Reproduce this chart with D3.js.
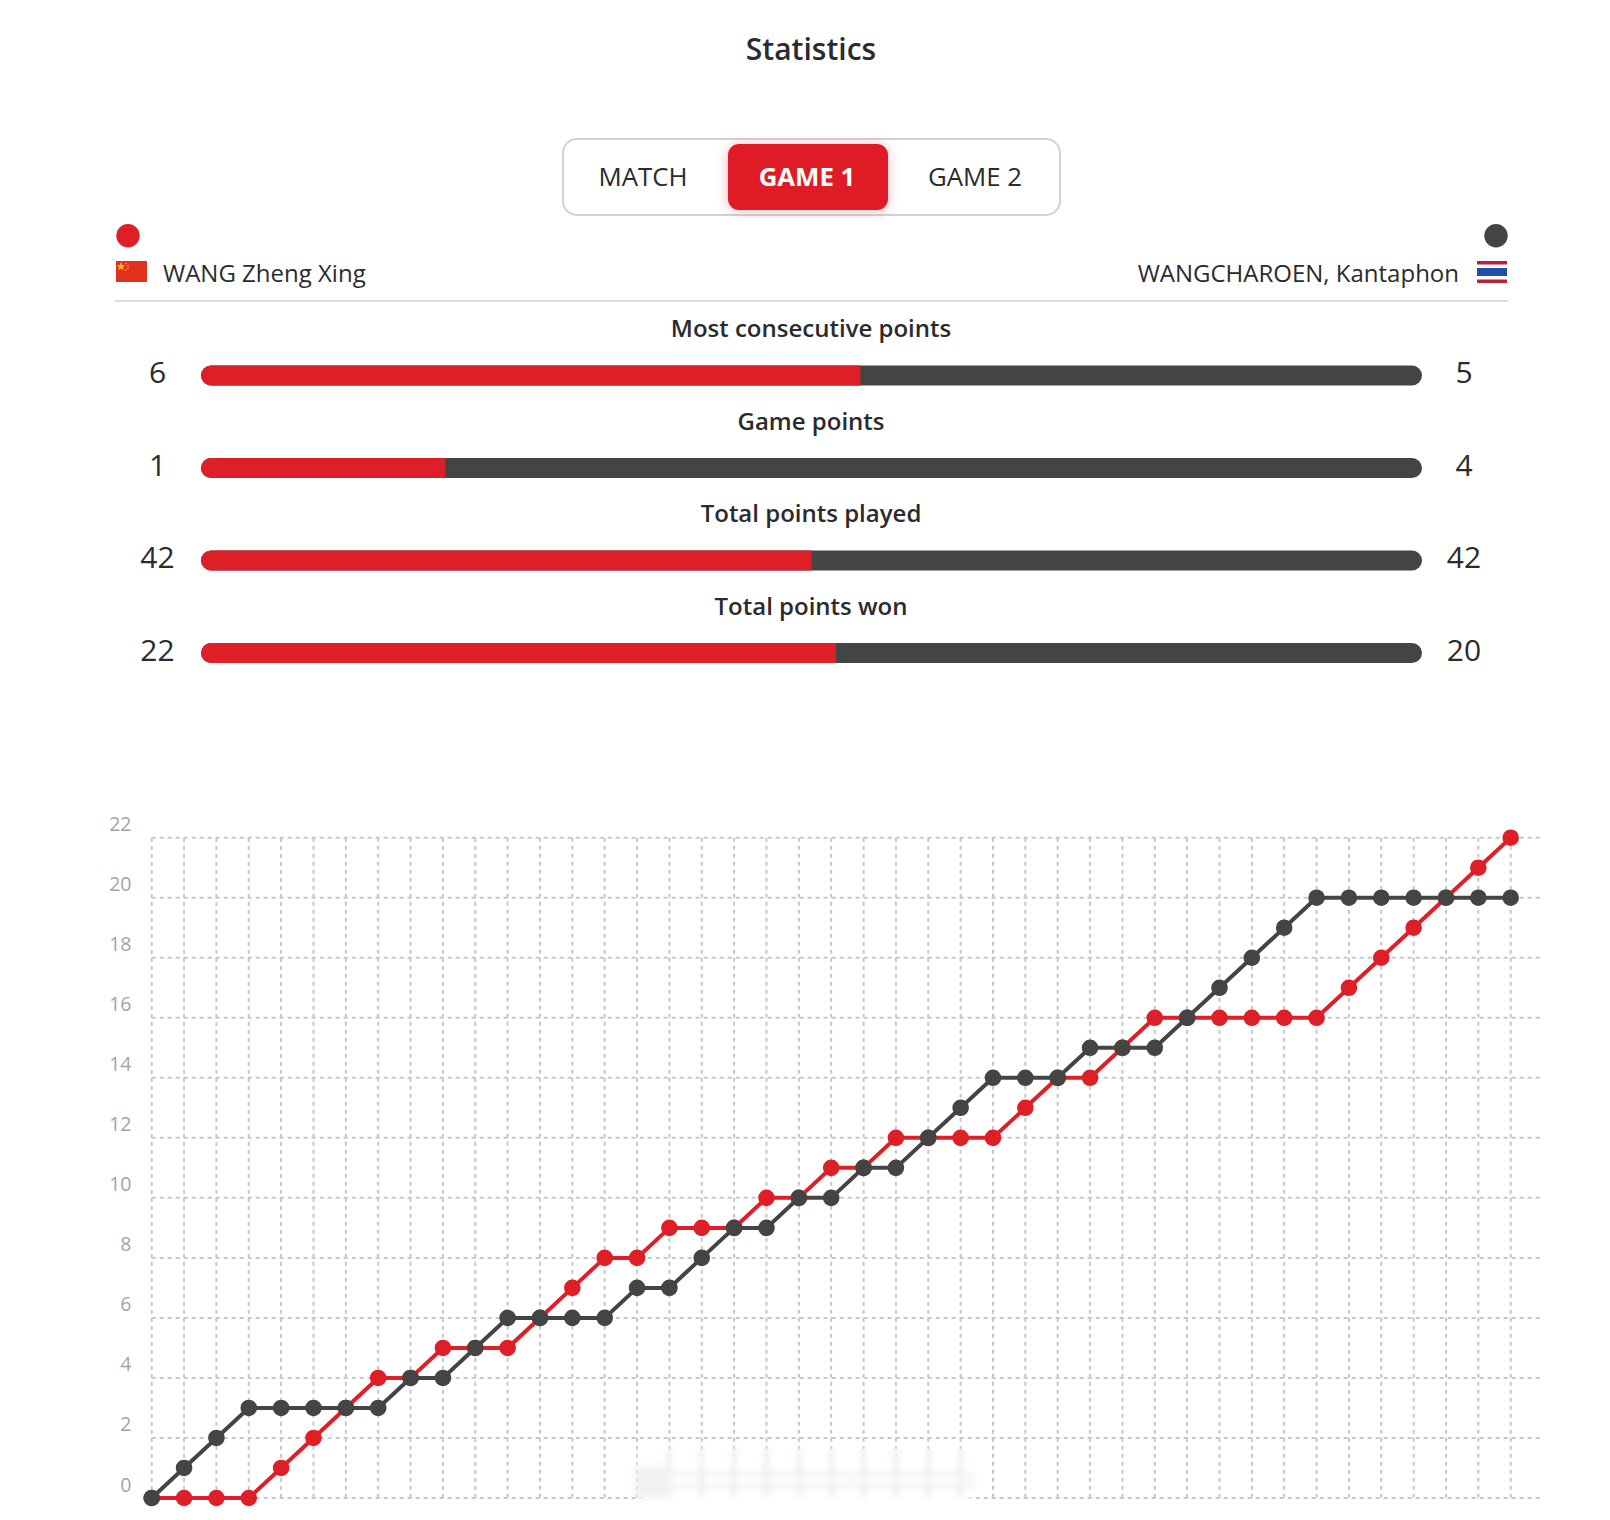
<!DOCTYPE html>
<html><head><meta charset="utf-8">
<script src="https://cdn.jsdelivr.net/npm/d3@7/dist/d3.min.js"></script>
<style>
html,body{margin:0;background:#fff}
svg{display:block}
text{font-family:"Open Sans",sans-serif;fill:#2b2b2d}
</style></head><body><svg id="c" width="1610" height="1520"></svg>
<script>
const RED="#df1f28", DARK="#444444";
const title="Statistics";
const tabs=["MATCH","GAME 1","GAME 2"];
const activeTab="GAME 1";
const playerA="WANG Zheng Xing";
const playerB="WANGCHAROEN, Kantaphon";
const statLabels=["Most consecutive points","Game points","Total points played","Total points won"];
const statA=[6,1,42,22];
const statB=[5,4,42,20];
const pointIndex=d3.range(0,43);
const scoreA=[0,0,0,0,1,2,3,4,4,5,5,5,6,7,8,8,9,9,9,10,10,11,11,12,12,12,12,13,14,14,15,16,16,16,16,16,16,17,18,19,20,21,22];
const scoreB=[0,1,2,3,3,3,3,3,4,4,5,6,6,6,6,7,7,8,9,9,10,10,11,11,12,13,14,14,14,15,15,15,16,17,18,19,20,20,20,20,20,20,20];
const yTicks=[0,2,4,6,8,10,12,14,16,18,20,22];

const svg=d3.select("#c");
const defs=svg.append("defs");
defs.append("filter").attr("id","glow").attr("x","-30%").attr("y","-30%").attr("width","160%").attr("height","160%")
  .append("feDropShadow").attr("dx",0).attr("dy",1).attr("stdDeviation",6).attr("flood-color",RED).attr("flood-opacity",.3);
defs.append("filter").attr("id","blur").attr("x","-20%").attr("y","-50%").attr("width","140%").attr("height","200%")
  .append("feGaussianBlur").attr("stdDeviation",4);
defs.append("filter").attr("id","blur2").attr("x","-20%").attr("y","-100%").attr("width","140%").attr("height","300%")
  .append("feGaussianBlur").attr("stdDeviation",3);

svg.append("text").text(title).attr("x",811).attr("y",60).attr("text-anchor","middle")
  .attr("font-size",30).attr("font-weight",600);

// tabs
svg.append("rect").attr("x",563).attr("y",139).attr("width",497).attr("height",76).attr("rx",14)
  .attr("fill","#fff").attr("stroke","#d2d2d2").attr("stroke-width",2);
svg.append("rect").attr("x",728).attr("y",144).attr("width",160).attr("height",66).attr("rx",11)
  .attr("fill",RED).attr("filter","url(#glow)");
const tabX=[643,807,975];
svg.selectAll(".tab").data(tabs).join("text").attr("class","tab").text(d=>d)
  .attr("x",(d,i)=>tabX[i]).attr("y",186).attr("text-anchor","middle").attr("font-size",25.8)
  .attr("font-weight",d=>d===activeTab?700:400)
  .style("fill",d=>d===activeTab?"#fff":"#2b2b2d");

// players
svg.append("circle").attr("cx",128).attr("cy",235.7).attr("r",11.7).attr("fill",RED);
svg.append("circle").attr("cx",1496).attr("cy",235.7).attr("r",11.7).attr("fill",DARK);
svg.append("rect").attr("x",116).attr("y",261).attr("width",31).attr("height",21).attr("fill","#e0301e");
svg.append("path").attr("d",d3.symbol(d3.symbolStar,26)()).attr("transform","translate(121,266.5)").attr("fill","#ffc21a");
[[126,263.5],[128,265.5],[128,268],[126,270]].forEach(p=>svg.append("circle").attr("cx",p[0]).attr("cy",p[1]).attr("r",.8).attr("fill","#ffc21a"));
[[0,22,"#fff"],[0,3.5,"#b8203f"],[18.5,3.5,"#b8203f"],[7,8,"#1f4fa8"]].forEach(r=>
  svg.append("rect").attr("x",1477).attr("y",261+r[0]).attr("width",30).attr("height",r[1]).attr("fill",r[2]));
svg.append("text").text(playerA).attr("x",163).attr("y",282).attr("font-size",24);
svg.append("text").text(playerB).attr("x",1459).attr("y",282).attr("text-anchor","end").attr("font-size",24);
svg.append("line").attr("x1",115).attr("x2",1508).attr("y1",301).attr("y2",301).attr("stroke","#d2d2d2").attr("stroke-width",1.6);

// stat bars
const barX=d3.scaleLinear().domain([0,100]).range([201,1422]);
const rowY=d3.scaleLinear().domain([0,3]).range([375.5,653]);
const share=i=>Math.floor(statA[i]/(statA[i]+statB[i])*100);
statLabels.forEach((lab,i)=>{
  const y=rowY(i);
  svg.append("text").text(lab).attr("x",811).attr("y",y-38.5).attr("text-anchor","middle").attr("font-size",24).attr("font-weight",600);
  svg.append("text").text(statA[i]).attr("x",157.5).attr("y",y+7.5).attr("text-anchor","middle").attr("font-size",30);
  svg.append("text").text(statB[i]).attr("x",1464).attr("y",y+7.5).attr("text-anchor","middle").attr("font-size",30);
  svg.append("rect").attr("x",barX(0)).attr("y",y-10).attr("width",barX(100)-barX(0)).attr("height",20).attr("rx",10).attr("fill",DARK);
  const m=barX(share(i));
  svg.append("path").attr("d",`M${m},${y-10}H${barX(0)+10}a10,10 0 0 0 0,20H${m}Z`).attr("fill",RED);
});

// chart
const x=d3.scaleLinear().domain([0,42]).range([151.7,1510.7]);
const y=d3.scaleLinear().domain([0,22]).range([1498,837.7]);
const gridRight=1540;
const grid=svg.append("g").attr("fill","none").attr("stroke","#c8c8c8").attr("stroke-width",2).attr("stroke-dasharray","4,4");
grid.selectAll(".v").data(pointIndex).join("line").attr("x1",d=>x(d)).attr("x2",d=>x(d)).attr("y1",y(22)).attr("y2",y(0));
grid.selectAll(".h").data(yTicks).join("line").attr("x1",x(0)).attr("x2",gridRight).attr("y1",d=>y(d)).attr("y2",d=>y(d));

const axis=d3.axisLeft(y).tickValues(yTicks).tickSize(0).tickPadding(0);
const ag=svg.append("g").attr("transform","translate(131.5,0)").call(axis);
ag.select(".domain").remove();
ag.selectAll("text").attr("dy",null).attr("dominant-baseline",null).attr("y",-7).attr("x",0)
  .attr("text-anchor","end").attr("font-size",19.5).attr("font-family",'"Open Sans",sans-serif').style("fill","#a4a4a4");

// blurred-out patch over the grid
svg.append("rect").attr("x",640).attr("y",1450).attr("width",330).attr("height",58).attr("fill","#fff").attr("filter","url(#blur)");
const smudge=svg.append("g").attr("filter","url(#blur2)").attr("opacity",.75);
smudge.selectAll("line").data(pointIndex.filter(d=>x(d)>650&&x(d)<965)).join("line")
  .attr("x1",d=>x(d)).attr("x2",d=>x(d)).attr("y1",1448).attr("y2",1498).attr("stroke","#d4d4d4").attr("stroke-width",2.5);
smudge.append("rect").attr("x",636).attr("y",1474).attr("width",337).attr("height",12).attr("rx",6)
  .attr("fill","none").attr("stroke","#e6e6e6").attr("stroke-width",3);
smudge.append("rect").attr("x",634).attr("y",1466).attr("width",36).attr("height",32).attr("fill","#ededed");

const line=d3.line().x((d,i)=>x(i)).y(d=>y(d));
[[scoreA,RED],[scoreB,DARK]].forEach(([s,c])=>{
  const g=svg.append("g");
  g.append("path").datum(s).attr("d",line).attr("fill","none").attr("stroke",c).attr("stroke-width",4);
  g.selectAll("circle").data(s).join("circle").attr("cx",(d,i)=>x(i)).attr("cy",d=>y(d)).attr("r",8.3).attr("fill",c);
});
</script></body></html>
